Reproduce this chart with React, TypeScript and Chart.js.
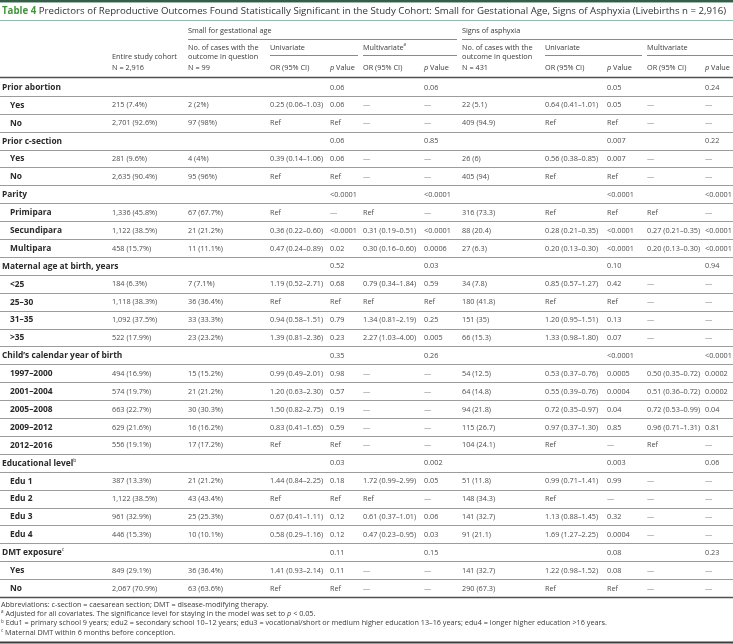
import React, { useEffect, useRef } from "react";
import { Chart, registerables } from "chart.js";

Chart.register(...registerables);

const W = 733;
const H = 644;
const FAMILY = '"Open Sans", "Noto Sans", sans-serif';

// ---------- data ----------
const rowLabels = [
  "Prior abortion", "Yes", "No",
  "Prior c-section", "Yes", "No",
  "Parity", "Primipara", "Secundipara", "Multipara",
  "Maternal age at birth, years", "<25", "25–30", "31–35", ">35",
  "Child’s calendar year of birth", "1997–2000", "2001–2004", "2005–2008", "2009–2012", "2012–2016",
  "Educational level", "Edu 1", "Edu 2", "Edu 3", "Edu 4",
  "DMT exposure", "Yes", "No",
];
const groupRows = [0, 3, 6, 10, 15, 21, 26];
const labelSup = ["", "", "", "", "", "", "", "", "", "", "", "", "", "", "", "", "", "", "", "", "", "b", "", "", "", "", "c", "", ""];

const cohort = ["", "215 (7.4%)", "2,701 (92.6%)", "", "281 (9.6%)", "2,635 (90.4%)", "", "1,336 (45.8%)", "1,122 (38.5%)", "458 (15.7%)", "", "184 (6.3%)", "1,118 (38.3%)", "1,092 (37.5%)", "522 (17.9%)", "", "494 (16.9%)", "574 (19.7%)", "663 (22.7%)", "629 (21.6%)", "556 (19.1%)", "", "387 (13.3%)", "1,122 (38.5%)", "961 (32.9%)", "446 (15.3%)", "", "849 (29.1%)", "2,067 (70.9%)"];
const sgaCases = ["", "2 (2%)", "97 (98%)", "", "4 (4%)", "95 (96%)", "", "67 (67.7%)", "21 (21.2%)", "11 (11.1%)", "", "7 (7.1%)", "36 (36.4%)", "33 (33.3%)", "23 (23.2%)", "", "15 (15.2%)", "21 (21.2%)", "30 (30.3%)", "16 (16.2%)", "17 (17.2%)", "", "21 (21.2%)", "43 (43.4%)", "25 (25.3%)", "10 (10.1%)", "", "36 (36.4%)", "63 (63.6%)"];
const sgaUniOR = ["", "0.25 (0.06–1.03)", "Ref", "", "0.39 (0.14–1.06)", "Ref", "", "Ref", "0.36 (0.22–0.60)", "0.47 (0.24–0.89)", "", "1.19 (0.52–2.71)", "Ref", "0.94 (0.58–1.51)", "1.39 (0.81–2.36)", "", "0.99 (0.49–2.01)", "1.20 (0.63–2.30)", "1.50 (0.82–2.75)", "0.83 (0.41–1.65)", "Ref", "", "1.44 (0.84–2.25)", "Ref", "0.67 (0.41–1.11)", "0.58 (0.29–1.16)", "", "1.41 (0.93–2.14)", "Ref"];
const sgaUniP = ["0.06", "0.06", "Ref", "0.06", "0.06", "Ref", "<0.0001", "—", "<0.0001", "0.02", "0.52", "0.68", "Ref", "0.79", "0.23", "0.35", "0.98", "0.57", "0.19", "0.59", "Ref", "0.03", "0.18", "Ref", "0.12", "0.12", "0.11", "0.11", "Ref"];
const sgaMultOR = ["", "—", "—", "", "—", "—", "", "Ref", "0.31 (0.19–0.51)", "0.30 (0.16–0.60)", "", "0.79 (0.34–1.84)", "Ref", "1.34 (0.81–2.19)", "2.27 (1.03–4.00)", "", "—", "—", "—", "—", "—", "", "1.72 (0.99–2.99)", "Ref", "0.61 (0.37–1.01)", "0.47 (0.23–0.95)", "", "—", "—"];
const sgaMultP = ["0.06", "—", "—", "0.85", "—", "—", "<0.0001", "—", "<0.0001", "0.0006", "0.03", "0.59", "Ref", "0.25", "0.005", "0.26", "—", "—", "—", "—", "—", "0.002", "0.05", "—", "0.06", "0.03", "0.15", "—", "—"];
const asCases = ["", "22 (5.1)", "409 (94.9)", "", "26 (6)", "405 (94)", "", "316 (73.3)", "88 (20.4)", "27 (6.3)", "", "34 (7.8)", "180 (41.8)", "151 (35)", "66 (15.3)", "", "54 (12.5)", "64 (14.8)", "94 (21.8)", "115 (26.7)", "104 (24.1)", "", "51 (11.8)", "148 (34.3)", "141 (32.7)", "91 (21.1)", "", "141 (32.7)", "290 (67.3)"];
const asUniOR = ["", "0.64 (0.41–1.01)", "Ref", "", "0.56 (0.38–0.85)", "Ref", "", "Ref", "0.28 (0.21–0.35)", "0.20 (0.13–0.30)", "", "0.85 (0.57–1.27)", "Ref", "1.20 (0.95–1.51)", "1.33 (0.98–1.80)", "", "0.53 (0.37–0.76)", "0.55 (0.39–0.76)", "0.72 (0.35–0.97)", "0.97 (0.37–1.30)", "Ref", "", "0.99 (0.71–1.41)", "Ref", "1.13 (0.88–1.45)", "1.69 (1.27–2.25)", "", "1.22 (0.98–1.52)", "Ref"];
const asUniP = ["0.05", "0.05", "Ref", "0.007", "0.007", "Ref", "<0.0001", "Ref", "<0.0001", "<0.0001", "0.10", "0.42", "Ref", "0.13", "0.07", "<0.0001", "0.0005", "0.0004", "0.04", "0.85", "—", "0.003", "0.99", "—", "0.32", "0.0004", "0.08", "0.08", "Ref"];
const asMultOR = ["", "—", "—", "", "—", "—", "", "Ref", "0.27 (0.21–0.35)", "0.20 (0.13–0.30)", "", "—", "—", "—", "—", "", "0.50 (0.35–0.72)", "0.51 (0.36–0.72)", "0.72 (0.53–0.99)", "0.96 (0.71–1.31)", "Ref", "", "—", "—", "—", "—", "", "—", "—"];
const asMultP = ["0.24", "—", "—", "0.22", "—", "—", "<0.0001", "—", "<0.0001", "<0.0001", "0.94", "—", "—", "—", "—", "<0.0001", "0.0002", "0.0002", "0.04", "0.81", "—", "0.06", "—", "—", "—", "—", "0.23", "—", "—"];

const titleBold = "Table 4";
const titleRest = " Predictors of Reproductive Outcomes Found Statistically Significant in the Study Cohort: Small for Gestational Age, Signs of Asphyxia (Livebirths n = 2,916)";

// ---------- layout (positions / styles) ----------
const COL = {
  label: 2, item: 10,
  cohort: 112, sgaCases: 188, sgaUniOR: 270, sgaUniP: 330, sgaMultOR: 363, sgaMultP: 424,
  asCases: 462, asUniOR: 545, asUniP: 607, asMultOR: 647, asMultP: 705,
};
const TABLE_TOP = 78;
const TABLE_BOTTOM = 597;
const DATA_SIZE = 7.3;
const LABEL_SIZE = 8.4;

const C_LABEL = "#2a2a2a";
const C_DATA = "#4d4d4d";
const C_HEAD = "#3a3a3a";
const C_GREEN = "#44953f";

type Run = { t: string; f: string; c: string; dy?: number };

function drawRuns(ctx: CanvasRenderingContext2D, x: number, y: number, runs: Run[]) {
  let cx = x;
  for (const r of runs) {
    ctx.font = r.f;
    ctx.fillStyle = r.c;
    ctx.fillText(r.t, cx, y + (r.dy || 0));
    cx += ctx.measureText(r.t).width;
  }
  return cx;
}

function fit(ctx: CanvasRenderingContext2D, text: string, weight: string, target: number) {
  ctx.font = `${weight} 10px ${FAMILY}`;
  return (10 * target) / ctx.measureText(text).width;
}

function hline(ctx: CanvasRenderingContext2D, x1: number, x2: number, y: number, w: number, c: string) {
  ctx.fillStyle = c;
  ctx.fillRect(x1, y - w / 2, x2 - x1, w);
}

const tablePlugin = {
  id: "tableCells",
  afterDraw(chart: any) {
    const ctx: CanvasRenderingContext2D = chart.ctx;
    const ys = chart.scales.y;
    const xs = chart.scales.x;
    const px = (v: number) => xs.getPixelForValue(v);
    ctx.save();
    ctx.textBaseline = "middle";
    ctx.textAlign = "left";

    ctx.font = `bold 10px ${FAMILY}`;
    const wb = ctx.measureText(titleBold).width;
    ctx.font = `normal 10px ${FAMILY}`;
    const wr = ctx.measureText(titleRest).width;
    const titleSize = (10 * 725) / (wb + wr);
    const noteSize = fit(ctx, "Abbreviations: c-section = caesarean section; DMT = disease-modifying therapy.", "normal", 268);

    const fData = `normal ${DATA_SIZE}px ${FAMILY}`;
    const fItal = `italic ${DATA_SIZE}px ${FAMILY}`;
    const fSup = `normal ${DATA_SIZE * 0.62}px ${FAMILY}`;
    const fLabel = `bold ${LABEL_SIZE}px ${FAMILY}`;
    const fLabelSup = `normal ${LABEL_SIZE * 0.6}px ${FAMILY}`;

    // top rule + title
    hline(ctx, 0, W, 1.2, 2.5, "#335f48");
    drawRuns(ctx, 2, 11.5, [
      { t: titleBold, f: `bold ${titleSize}px ${FAMILY}`, c: C_GREEN },
      { t: titleRest, f: `normal ${titleSize}px ${FAMILY}`, c: "#333333" },
    ]);
    hline(ctx, 0, W, 20.5, 1, "#94bcaa");

    // header
    const hd = (t: string, x: number, y: number) => drawRuns(ctx, px(x), y, [{ t, f: fData, c: C_HEAD }]);
    const pv = (x: number, y: number) =>
      drawRuns(ctx, px(x), y, [
        { t: "p", f: fItal, c: C_HEAD },
        { t: " Value", f: fData, c: C_HEAD },
      ]);
    hd("Small for gestational age", COL.sgaCases, 30.5);
    hd("Signs of asphyxia", COL.asCases, 30.5);
    hline(ctx, px(COL.sgaCases), px(COL.asCases) - 5, 39.5, 1, "#8a8a8a");
    hline(ctx, px(COL.asCases), W, 39.5, 1, "#8a8a8a");

    hd("Entire study cohort", COL.cohort, 57);
    hd("N = 2,916", COL.cohort, 67.5);
    hd("No. of cases with the", COL.sgaCases, 47.5);
    hd("outcome in question", COL.sgaCases, 57);
    hd("N = 99", COL.sgaCases, 67.5);
    hd("No. of cases with the", COL.asCases, 47.5);
    hd("outcome in question", COL.asCases, 57);
    hd("N = 431", COL.asCases, 67.5);

    hd("Univariate", COL.sgaUniOR, 47.5);
    drawRuns(ctx, px(COL.sgaMultOR), 47.5, [
      { t: "Multivariate", f: fData, c: C_HEAD },
      { t: "a", f: fSup, c: C_HEAD, dy: -2.5 },
    ]);
    hd("Univariate", COL.asUniOR, 47.5);
    hd("Multivariate", COL.asMultOR, 47.5);
    hline(ctx, px(COL.sgaUniOR), px(COL.sgaMultOR) - 5, 55.5, 1, "#8a8a8a");
    hline(ctx, px(COL.sgaMultOR), px(COL.asCases) - 5, 55.5, 1, "#8a8a8a");
    hline(ctx, px(COL.asUniOR), px(COL.asMultOR) - 5, 55.5, 1, "#8a8a8a");
    hline(ctx, px(COL.asMultOR), W, 55.5, 1, "#8a8a8a");

    hd("OR (95% CI)", COL.sgaUniOR, 67.5);
    pv(COL.sgaUniP, 67.5);
    hd("OR (95% CI)", COL.sgaMultOR, 67.5);
    pv(COL.sgaMultP, 67.5);
    hd("OR (95% CI)", COL.asUniOR, 67.5);
    pv(COL.asUniP, 67.5);
    hd("OR (95% CI)", COL.asMultOR, 67.5);
    pv(COL.asMultP, 67.5);

    // body
    const n = rowLabels.length;
    const top = chart.chartArea.top;
    const bottom = chart.chartArea.bottom;
    for (let i = 1; i < n; i++) {
      const yb = Math.round((ys.getPixelForValue(i - 1) + ys.getPixelForValue(i)) / 2) + 0.5;
      hline(ctx, 0, W, yb, 1, "#9c9c9c");
    }
    hline(ctx, 0, W, top - 0.5, 1.5, "#505050");
    hline(ctx, 0, W, bottom + 0.5, 1.5, "#505050");

    const cols: [string[], number][] = [
      [cohort, COL.cohort], [sgaCases, COL.sgaCases], [sgaUniOR, COL.sgaUniOR], [sgaUniP, COL.sgaUniP],
      [sgaMultOR, COL.sgaMultOR], [sgaMultP, COL.sgaMultP], [asCases, COL.asCases], [asUniOR, COL.asUniOR],
      [asUniP, COL.asUniP], [asMultOR, COL.asMultOR], [asMultP, COL.asMultP],
    ];
    for (let i = 0; i < n; i++) {
      const y = ys.getPixelForValue(i) + 0.5;
      const isGroup = groupRows.includes(i);
      const lx = isGroup ? COL.label : COL.item;
      const runs: Run[] = [{ t: rowLabels[i], f: fLabel, c: C_LABEL }];
      if (labelSup[i]) runs.push({ t: labelSup[i], f: fLabelSup, c: C_LABEL, dy: -3 });
      drawRuns(ctx, px(lx), y, runs);
      for (const [arr, cx] of cols) {
        const t = arr[i];
        if (!t) continue;
        ctx.font = fData;
        ctx.fillStyle = t === "—" ? "#8a8a8a" : C_DATA;
        ctx.fillText(t, px(cx), y);
      }
    }

    // footnotes
    const fN = `normal ${noteSize}px ${FAMILY}`;
    const fNI = `italic ${noteSize}px ${FAMILY}`;
    const fNS = `normal ${noteSize * 0.62}px ${FAMILY}`;
    const nc = "#3a3a3a";
    drawRuns(ctx, 1, 605, [{ t: "Abbreviations: c-section = caesarean section; DMT = disease-modifying therapy.", f: fN, c: nc }]);
    drawRuns(ctx, 1, 614.2, [
      { t: "a", f: fNS, c: nc, dy: -2 },
      { t: " Adjusted for all covariates. The significance level for staying in the model was set to ", f: fN, c: nc },
      { t: "p", f: fNI, c: nc },
      { t: " < 0.05.", f: fN, c: nc },
    ]);
    drawRuns(ctx, 1, 623.4, [
      { t: "b", f: fNS, c: nc, dy: -2 },
      { t: " Edu1 = primary school 9 years; edu2 = secondary school 10–12 years; edu3 = vocational/short or medium higher education 13–16 years; edu4 = longer higher education >16 years.", f: fN, c: nc },
    ]);
    drawRuns(ctx, 1, 632.6, [
      { t: "c", f: fNS, c: nc, dy: -2 },
      { t: " Maternal DMT within 6 months before conception.", f: fN, c: nc },
    ]);
    hline(ctx, 0, W, 642.5, 2, "#3c3c3c");

    ctx.restore();
  },
};

export default function App() {
  const ref = useRef<HTMLCanvasElement | null>(null);
  useEffect(() => {
    document.body.style.margin = "0";
    const canvas = ref.current;
    if (!canvas) return;
    const chart = new Chart(canvas, {
      type: "bar",
      data: {
        labels: rowLabels.map((l, i) => `${i}:${l}`),
        datasets: [{ label: "rows", data: rowLabels.map(() => null) as any, backgroundColor: "rgba(0,0,0,0)" }],
      },
      options: {
        indexAxis: "y",
        animation: false,
        responsive: false,
        devicePixelRatio: 1,
        events: [],
        layout: { padding: { top: TABLE_TOP, bottom: H - TABLE_BOTTOM, left: 0, right: 0 } },
        plugins: { legend: { display: false }, tooltip: { enabled: false }, title: { display: false } },
        scales: {
          y: { type: "category", display: false, offset: true },
          x: { type: "linear", min: 0, max: W, display: false },
        },
      },
      plugins: [tablePlugin],
    });
    return () => chart.destroy();
  }, []);
  return (
    <div style={{ width: W, height: H, background: "#fff" }}>
      <canvas ref={ref} width={W} height={H} style={{ display: "block", width: W, height: H }} />
    </div>
  );
}
